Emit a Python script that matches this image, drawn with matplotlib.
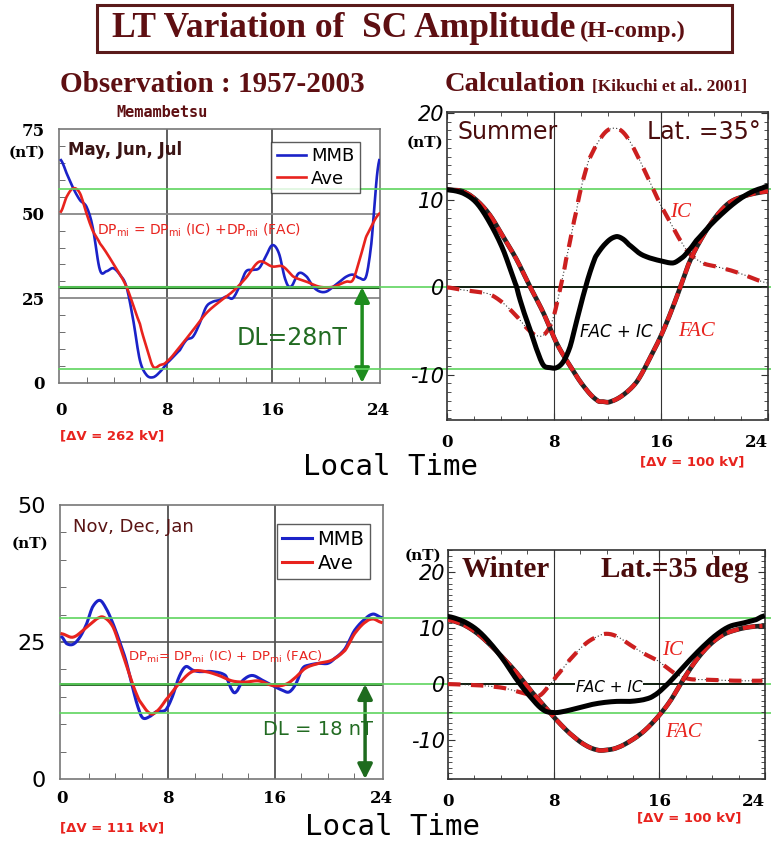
import numpy as np
import matplotlib
matplotlib.use("Agg")
import matplotlib.pyplot as plt
from matplotlib.patches import Rectangle
from matplotlib.ticker import MultipleLocator

# --- observation, May/Jun/Jul (Memambetsu) ---
lt_sum_mmb = [0, 0.43, 0.93, 1.44, 1.94, 2.4, 2.95, 3.45, 3.95, 4.46, 4.96, 5.47, 5.97, 6.47, 6.98,
              7.5, 8.0, 9.0, 9.5, 10.0, 10.5, 11.0, 11.5, 12.0, 12.5, 13.0, 13.5, 14.0, 14.5, 15.0,
              15.5, 16.0, 16.5, 17.0, 17.4, 18.0, 18.6, 19.1, 19.6, 20.1, 20.6, 21.1, 21.6, 22.1,
              22.6, 23.1, 23.5, 23.85, 24.1]
mmb_sum = [65.8, 61.9, 57.5, 54.0, 52.0, 46.0, 33.4, 33.0, 33.9, 32.0, 28.4, 18.6, 6.8, 2.4, 1.7,
           3.3, 5.8, 9.7, 12.7, 13.7, 17.6, 22.5, 24.0, 24.5, 25.5, 25.0, 28.4, 32.9, 33.4, 33.9,
           37.3, 40.7, 38.3, 30.4, 28.4, 32.4, 31.4, 28.4, 27.0, 27.0, 28.4, 29.9, 31.4, 32.0,
           31.0, 31.4, 41.2, 58.0, 65.8]
lt_sum_ave = [0, 0.43, 0.93, 1.44, 1.94, 2.4, 2.95, 3.95, 4.96, 5.97, 6.47, 6.98, 7.5, 8.0, 9.0,
              10.0, 11.0, 12.0, 13.0, 14.0, 15.0, 16.0, 16.8, 17.6, 18.6, 19.6, 20.6, 21.6, 22.1,
              22.6, 23.1, 24.1]
ave_sum = [50.6, 55.0, 57.5, 56.0, 50.0, 45.0, 41.2, 35.3, 28.4, 17.6, 10.7, 4.8, 5.3, 6.3, 10.7,
           15.6, 20.6, 24.0, 27.0, 31.0, 35.8, 34.4, 34.4, 31.4, 29.9, 28.4, 28.4, 29.9, 30.4,
           36.3, 43.2, 50.0]

# --- observation, Nov/Dec/Jan ---
lt_win_mmb = [0, 0.35, 0.85, 1.35, 1.85, 2.3, 2.85, 3.35, 3.85, 4.3, 4.8, 5.3, 5.8, 6.1, 6.6, 7.1,
              7.8, 8.3, 8.8, 9.3, 9.8, 10.3, 11.3, 12.3, 12.8, 13.1, 13.6, 14.3, 15.1, 15.8, 16.6,
              17.1, 17.6, 18.1, 18.6, 19.3, 20.0, 20.5, 21.3, 22.0, 22.8, 23.4, 24.0]
mmb_win = [25.9, 24.7, 24.6, 25.9, 28.3, 31.4, 32.6, 31.0, 28.3, 25.3, 21.7, 16.8, 12.6, 11.1, 11.4,
           12.3, 12.6, 15.0, 18.6, 20.5, 19.9, 19.6, 19.6, 18.9, 16.2, 15.9, 18.0, 18.9, 18.0, 17.1,
           16.2, 15.9, 17.4, 20.2, 20.8, 21.1, 21.1, 22.0, 23.8, 27.1, 29.2, 30.1, 29.5]
lt_win_ave = [0, 0.85, 1.85, 2.85, 3.35, 3.85, 4.3, 4.8, 5.3, 5.8, 6.6, 7.1, 7.8, 8.8, 9.8, 10.8,
              11.8, 12.8, 13.8, 14.8, 15.8, 16.6, 17.3, 18.3, 19.3, 20.3, 21.3, 22.0, 22.8, 23.4, 24.0]
ave_win = [26.5, 25.9, 27.7, 29.5, 29.2, 27.7, 24.7, 21.1, 17.4, 14.4, 12.0, 12.3, 14.4, 17.4, 19.6,
           19.6, 18.9, 17.9, 17.7, 17.9, 17.1, 17.1, 18.0, 20.2, 21.1, 21.7, 23.5, 26.5, 28.6, 29.2, 28.6]

# --- calculation, summer ---
lt_s_tot = [0, 1.2, 2.2, 3.2, 4.2, 5.2, 5.7, 6.2, 6.7, 7.2, 7.7, 8.2, 8.7, 9.2, 9.65, 10.1, 10.6,
            11.1, 11.9, 12.6, 13.1, 13.6, 14.4, 15.1, 16.1, 16.9, 17.4, 17.9, 18.6, 19.6, 20.6,
            21.6, 22.6, 23.6, 24.0]
s_tot = [11.2, 10.8, 9.7, 7.4, 4.3, 0.1, -2.6, -4.8, -7.1, -8.9, -9.2, -9.2, -8.5, -6.8, -4.1,
         -1.4, 1.3, 3.5, 5.1, 5.8, 5.6, 4.9, 3.9, 3.4, 3.0, 2.8, 3.2, 3.9, 5.3, 7.0, 8.5, 9.8,
         10.8, 11.4, 11.6]
lt_s_fac = [0, 1.2, 2.2, 3.2, 4.2, 5.2, 6.2, 7.2, 8.2, 9.2, 10.2, 11.2, 11.7, 12.2, 13.2, 14.2,
            15.1, 16.1, 17.1, 18.1, 19.1, 20.1, 21.1, 22.1, 23.1, 24.0]
s_fac = [11.2, 11.0, 10.0, 8.3, 5.8, 3.2, 0.1, -2.9, -6.4, -9.0, -11.3, -12.9, -13.1, -13.1, -12.3,
         -10.8, -8.3, -5.2, -1.4, 2.8, 5.8, 8.1, 9.7, 10.4, 10.8, 11.0]
lt_s_ic = [0, 1.2, 2.2, 3.2, 4.2, 5.2, 6.2, 6.9, 7.4, 7.9, 8.4, 8.9, 9.7, 10.1, 10.6, 11.4, 12.1,
           12.9, 13.6, 14.4, 15.1, 15.9, 16.6, 17.4, 18.1, 19.1, 20.1, 21.1, 22.1, 23.1, 24.0]
s_ic = [0.0, -0.3, -0.5, -0.8, -1.8, -3.3, -5.0, -5.6, -5.2, -3.7, -0.6, 3.2, 8.9, 11.9, 14.6,
        16.9, 18.1, 18.1, 16.9, 14.6, 12.3, 9.7, 7.7, 5.5, 3.9, 2.8, 2.4, 2.0, 1.5, 0.9, 0.5]

# --- calculation, winter ---
lt_w_tot = [0, 1.2, 2.2, 3.2, 4.2, 5.2, 6.2, 7.2, 8.0, 8.75, 9.8, 10.8, 11.8, 12.8, 13.8, 14.8,
            15.5, 16.3, 17.3, 18.3, 19.3, 20.3, 21.3, 22.3, 23.3, 23.8]
w_tot = [12.1, 11.2, 9.7, 7.3, 4.3, 0.8, -2.2, -4.6, -5.1, -4.9, -4.3, -3.7, -3.3, -3.1, -3.1, -2.8,
         -2.2, -0.7, 1.7, 4.3, 6.7, 8.8, 10.3, 10.9, 11.5, 12.1]
lt_w_fac = [0, 1.2, 2.2, 3.2, 4.2, 5.2, 6.2, 7.2, 8.2, 9.2, 10.3, 11.3, 12.0, 12.8, 13.8, 14.8,
            15.8, 16.8, 17.8, 18.8, 19.8, 20.8, 21.8, 22.8, 23.8]
w_fac = [11.5, 10.6, 9.1, 7.0, 4.6, 2.0, -1.0, -3.7, -6.4, -8.8, -10.8, -11.8, -11.8, -11.4, -10.2,
         -8.5, -6.1, -3.1, 0.8, 4.3, 7.0, 8.8, 9.7, 10.2, 10.4]
lt_w_ic = [0, 1.2, 2.2, 3.2, 4.2, 5.2, 6.2, 6.9, 7.5, 8.2, 9.2, 10.3, 11.3, 12.0, 12.8, 13.8, 14.8,
           15.8, 16.6, 17.3, 18.3, 19.3, 21.8, 23.8]
w_ic = [0.0, -0.1, -0.2, -0.4, -0.7, -1.3, -1.9, -2.1, -0.7, 1.4, 4.3, 7.0, 8.5, 9.0, 8.5, 7.0,
        5.5, 4.3, 2.9, 1.7, 0.9, 0.8, 0.6, 0.6]

# reference levels (left panel units) carried across both columns
green_top = [57.2, 28.3, 4.1]
green_bot = [29.4, 17.3, 12.0]
dl_top = 28.3
dl_bot = 17.3

hours = ["0", "8", "16", "24"]
calc_ylabels = ["-10", "0", "10", "20"]

DARKRED = "#5e0f12"
RED = "#e8231e"
BLUE = "#1b22c8"
LGREEN = "#5fd45f"
DGREEN = "#1d5c1d"
SERIF = "Liberation Serif"

fig = plt.figure(figsize=(7.71, 8.41), dpi=100)

ax1 = fig.add_axes([0.0765, 0.5446, 0.4163, 0.3020])
ax3 = fig.add_axes([0.0778, 0.0737, 0.4190, 0.3258])
ax2 = fig.add_axes([0.5798, 0.5006, 0.4163, 0.3662])
ax4 = fig.add_axes([0.5811, 0.0737, 0.4112, 0.2723])
for a in (ax2, ax4):
    a.patch.set_alpha(0)


def smooth(x, y, n=400):
    # catmull-rom through the read-off points, just for a smooth line
    xs = np.linspace(min(x), max(x), n)
    x = np.asarray(x, float)
    y = np.asarray(y, float)
    out = []
    for xv in xs:
        i = np.searchsorted(x, xv) - 1
        i = min(max(i, 0), len(x) - 2)
        p0 = y[max(i - 1, 0)]
        p1, p2 = y[i], y[i + 1]
        p3 = y[min(i + 2, len(x) - 1)]
        t = (xv - x[i]) / (x[i + 1] - x[i])
        out.append(0.5 * ((2 * p1) + (-p0 + p2) * t + (2 * p0 - 5 * p1 + 4 * p2 - p3) * t ** 2
                          + (-p0 + 3 * p1 - 3 * p2 + p3) * t ** 3))
    return xs, np.array(out)


def obs_axes(ax, ymax, step):
    ax.set_xlim(-0.15, 24.15)
    ax.set_ylim(0, ymax)
    ax.set_xticks([0, 8, 16, 24])
    ax.xaxis.set_minor_locator(MultipleLocator(2))
    ax.set_yticks(np.arange(0, ymax + 1, 25))
    ax.yaxis.set_minor_locator(MultipleLocator(step))
    ax.tick_params(which="both", direction="in", length=4, color="#555555")
    ax.tick_params(axis="x", which="major", length=0, pad=14)
    ax.tick_params(axis="y", which="major", length=0, pad=10)
    for s in ax.spines.values():
        s.set_color("#777777")
        s.set_linewidth(1.2)
    for v in (8, 16):
        ax.axvline(v, color="#444444", lw=1.2, zorder=1)


def calc_axes(ax, ylo, yhi):
    ax.set_xlim(0, 24)
    ax.set_ylim(ylo, yhi)
    ax.set_xticks([0, 8, 16, 24])
    ax.xaxis.set_minor_locator(MultipleLocator(2))
    ax.set_yticks([-10, 0, 10, 20])
    ax.set_yticklabels(calc_ylabels, fontsize=15, style="italic")
    ax.yaxis.set_minor_locator(MultipleLocator(1))
    ax.tick_params(which="both", direction="in", top=True, right=True, length=3, color="#333333")
    ax.tick_params(axis="y", which="major", length=5, pad=2)
    ax.tick_params(axis="x", which="major", length=5, pad=10)
    for s in ax.spines.values():
        s.set_color("#333333")
        s.set_linewidth(1.2)
    for v in (8, 16):
        ax.axvline(v, color="#333333", lw=0.8, zorder=1)
    ax.axhline(0, color="black", lw=1.2, zorder=1)
    labs = ax.set_xticklabels(hours, fontfamily="DejaVu Serif", fontweight="bold", fontsize=12)
    labs[-1].set_horizontalalignment("right")


# ---------- panel 1 ----------
obs_axes(ax1, 75, 5)
ax1.axhline(25, color="#888888", lw=1.3, zorder=1)
ax1.axhline(50, color="#888888", lw=1.3, zorder=1)
span1 = (1.0 - ax1.get_position().x0) / ax1.get_position().width
for g in green_top:
    ax1.axhline(g, xmin=0, xmax=span1, color=LGREEN, lw=1.2, clip_on=False, zorder=5)
ax1.axhline(dl_top, color=DGREEN, lw=2.2, zorder=2)
x, y = smooth(lt_sum_mmb, mmb_sum)
ax1.plot(x, y, color=BLUE, lw=1.9, label="MMB", zorder=3)
x, y = smooth(lt_sum_ave, ave_sum)
ax1.plot(x, y, color=RED, lw=1.9, label="Ave", zorder=4)
ax1.set_yticklabels(["0", "25", "50", "75"], fontfamily="DejaVu Serif", fontweight="bold", fontsize=12)
ax1.set_xticklabels(hours, fontfamily="DejaVu Serif", fontweight="bold", fontsize=12)
leg = ax1.legend(loc="upper right", bbox_to_anchor=(0.965, 0.985), fancybox=False, edgecolor="#333333",
                 fontsize=13, handlelength=1.6, handletextpad=0.3, borderpad=0.3, labelspacing=0.25)
leg.get_frame().set_linewidth(1.0)
ax1.text(0.028, 0.917, "May, Jun, Jul", transform=ax1.transAxes, fontsize=12, fontweight="bold",
         color="#3a1414", va="center")
ax1.text(0.118, 0.602, r"DP$_{\rm mi}$ = DP$_{\rm mi}$ (IC) +DP$_{\rm mi}$ (FAC)", transform=ax1.transAxes,
         fontsize=10, color=RED, va="center")
ax1.text(0.725, 0.177, "DL=28nT", transform=ax1.transAxes, fontsize=17, color="#226b22",
         ha="center", va="center")
ax1.annotate("", xy=(22.8, 0), xytext=(22.8, dl_top),
             arrowprops=dict(arrowstyle="<|-|>", color="#1e8c1e", lw=2.5, mutation_scale=22,
                             shrinkA=0, shrinkB=0))
ax1.text(-0.1, 0.905, "(nT)", transform=ax1.transAxes, fontsize=11, fontweight="bold",
         fontfamily="DejaVu Serif", ha="center", va="center")

# ---------- panel 3 ----------
obs_axes(ax3, 50, 5)
ax3.axhline(25, color="#555555", lw=1.2, zorder=1)
span3 = (1.0 - ax3.get_position().x0) / ax3.get_position().width
for g in green_bot:
    ax3.axhline(g, xmin=0, xmax=span3, color=LGREEN, lw=1.2, clip_on=False, zorder=5)
ax3.axhline(dl_bot, color=DGREEN, lw=2.0, zorder=2)
x, y = smooth(lt_win_mmb, mmb_win)
ax3.plot(x, y, color=BLUE, lw=2.2, label="MMB", zorder=3)
x, y = smooth(lt_win_ave, ave_win)
ax3.plot(x, y, color=RED, lw=2.2, label="Ave", zorder=4)
ax3.set_yticklabels(["0", "25", "50"], fontsize=16)
ax3.set_xticklabels(hours, fontfamily="DejaVu Serif", fontweight="bold", fontsize=12)
ax3.tick_params(axis="x", which="major", pad=8)
leg = ax3.legend(loc="upper right", bbox_to_anchor=(0.99, 0.965), fancybox=False, edgecolor="#333333",
                 fontsize=14, handlelength=1.5, handletextpad=0.3, borderpad=0.3, labelspacing=0.25)
leg.get_frame().set_linewidth(1.0)
ax3.text(0.04, 0.92, "Nov, Dec, Jan", transform=ax3.transAxes, fontsize=13, color="#5a1414", va="center")
ax3.text(0.21, 0.445, r"DP$_{\rm mi}$= DP$_{\rm mi}$ (IC) + DP$_{\rm mi}$ (FAC)", transform=ax3.transAxes,
         fontsize=9.5, color=RED, va="center")
ax3.text(0.80, 0.18, "DL = 18 nT", transform=ax3.transAxes, fontsize=14, color="#226b22",
         ha="center", va="center")
ax3.annotate("", xy=(22.8, 0), xytext=(22.8, dl_bot),
             arrowprops=dict(arrowstyle="<|-|>", color="#1e6b1e", lw=2.5, mutation_scale=22,
                             shrinkA=0, shrinkB=0))
ax3.text(-0.093, 0.86, "(nT)", transform=ax3.transAxes, fontsize=11, fontweight="bold",
         fontfamily="DejaVu Serif", ha="center", va="center")


def calc_curves(ax, lt_tot, tot, lt_fac, fac, lt_ic, ic):
    x, y = smooth(lt_ic, ic)
    ax.plot(x, y, color="#333333", lw=0.8, ls=(0, (1, 2)), zorder=3)
    ax.plot(x, y, color="#cc1f1f", lw=3.0, ls=(0, (3, 2.5)), zorder=3)
    x, y = smooth(lt_fac, fac)
    ax.plot(x, y, color="#222222", lw=3.4, zorder=3)
    ax.plot(x, y, color="#e02020", lw=3.0, ls=(0, (3, 1)), zorder=3)
    x, y = smooth(lt_tot, tot)
    ax.plot(x, y, color="black", lw=3.6, zorder=4)


# ---------- panel 2 ----------
calc_axes(ax2, -15.2, 20.1)
calc_curves(ax2, lt_s_tot, s_tot, lt_s_fac, s_fac, lt_s_ic, s_ic)
ax2.text(0.19, 0.935, "Summer", transform=ax2.transAxes, fontsize=17, color="#4a0c0c",
         ha="center", va="center")
ax2.text(0.80, 0.935, "Lat. =35°", transform=ax2.transAxes, fontsize=17, color="#4a0c0c",
         ha="center", va="center")
ax2.text(0.726, 0.675, "IC", transform=ax2.transAxes, fontsize=15, color=RED, style="italic",
         fontfamily=SERIF, ha="center", va="center")
ax2.text(0.527, 0.286, "FAC + IC", transform=ax2.transAxes, fontsize=12, color="black", style="italic",
         ha="center", va="center")
ax2.text(0.776, 0.286, "FAC", transform=ax2.transAxes, fontsize=15, color=RED, style="italic",
         fontfamily=SERIF, ha="center", va="center")
ax2.text(-0.07, 0.9, "(nT)", transform=ax2.transAxes, fontsize=11, fontweight="bold",
         fontfamily="DejaVu Serif", ha="center", va="center")

# ---------- panel 4 ----------
calc_axes(ax4, -17, 24)
calc_curves(ax4, lt_w_tot, w_tot, lt_w_fac, w_fac, lt_w_ic, w_ic)
ax4.text(0.183, 0.915, "Winter", transform=ax4.transAxes, fontsize=21, color="#4a0c0c", fontweight="bold",
         fontfamily=SERIF, ha="center", va="center")
ax4.text(0.715, 0.915, "Lat.=35 deg", transform=ax4.transAxes, fontsize=21, color="#4a0c0c",
         fontweight="bold", fontfamily=SERIF, ha="center", va="center")
ax4.text(0.707, 0.563, "IC", transform=ax4.transAxes, fontsize=15, color=RED, style="italic",
         fontfamily=SERIF, ha="center", va="center")
ax4.text(0.508, 0.40, "FAC + IC", transform=ax4.transAxes, fontsize=11, color="black", style="italic",
         ha="center", va="center", zorder=6,
         bbox=dict(facecolor="white", edgecolor="none", pad=0.5))
ax4.text(0.741, 0.205, "FAC", transform=ax4.transAxes, fontsize=15, color=RED, style="italic",
         fontfamily=SERIF, ha="center", va="center")
ax4.text(-0.079, 0.975, "(nT)", transform=ax4.transAxes, fontsize=11, fontweight="bold",
         fontfamily="DejaVu Serif", ha="center", va="center")

# ---------- figure texts ----------
fig.patches.append(Rectangle((0.1258, 0.938), 0.8236, 0.0559, transform=fig.transFigure,
                             facecolor="white", edgecolor="#5a1a1a", lw=2.2))
fig.text(0.145, 0.966, "LT Variation of  SC Amplitude", fontsize=25.5, fontweight="bold",
         fontfamily=SERIF, color=DARKRED, va="center")
fig.text(0.752, 0.963, "(H-comp.)", fontsize=17.5, fontweight="bold",
         fontfamily=SERIF, color=DARKRED, va="center")
fig.text(0.275, 0.899, "Observation : 1957-2003", fontsize=21, fontweight="bold",
         fontfamily=SERIF, color=DARKRED, ha="center", va="center")
fig.text(0.21, 0.866, "Memambetsu", fontsize=11, fontweight="bold",
         fontfamily="DejaVu Sans Mono", color=DARKRED, ha="center", va="center")
fig.text(0.577, 0.899, "Calculation", fontsize=20.5, fontweight="bold",
         fontfamily=SERIF, color=DARKRED, va="center")
fig.text(0.768, 0.897, "[Kikuchi et al.. 2001]", fontsize=12.5, fontweight="bold",
         fontfamily=SERIF, color=DARKRED, va="center")
for xx, yy in ((0.393, 0.445), (0.3956, 0.0166)):
    fig.text(xx, yy, "Local Time", fontsize=21, fontfamily="DejaVu Sans Mono", color="black", va="center")
for xx, yy, s in ((0.078, 0.4816, "[ΔV = 262 kV]"), (0.83, 0.4507, "[ΔV = 100 kV]"),
                  (0.078, 0.0155, "[ΔV = 111 kV]"), (0.826, 0.0273, "[ΔV = 100 kV]")):
    fig.text(xx, yy, s, fontsize=9.5, fontweight="bold", color=RED, va="center")

fig.savefig("out.png", dpi=100, facecolor="white")
